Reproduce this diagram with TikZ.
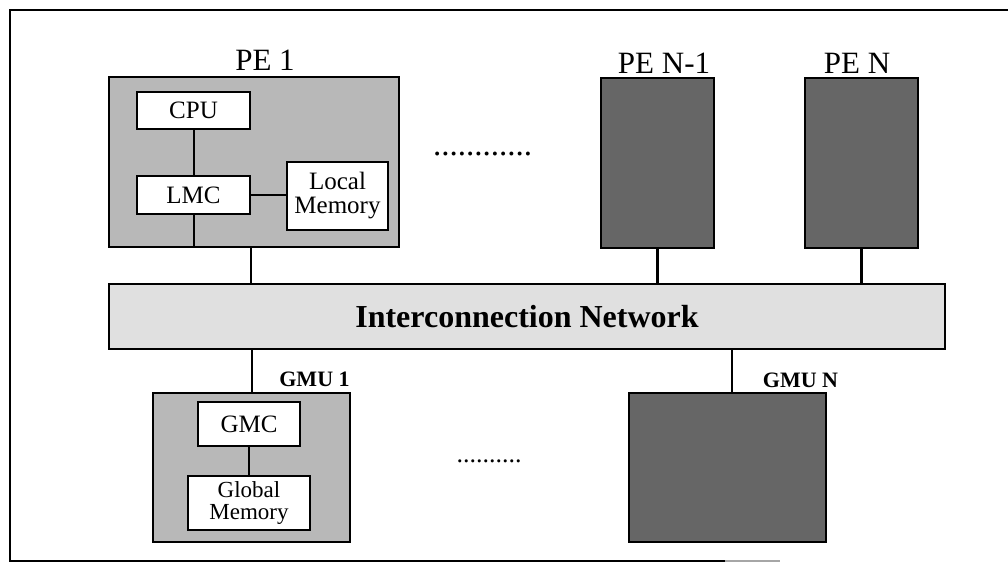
\documentclass[tikz,border=0pt]{standalone}
\usepackage{fontspec}
\setmainfont{Liberation Serif}
\begin{document}
\begin{tikzpicture}[x=1pt,y=-1pt,
  every node/.style={inner sep=0pt,outer sep=0pt},
  unit/.style={draw,line width=2.8pt,fill=black!28},
  darkunit/.style={draw,line width=2.8pt,fill=black!60},
  part/.style={draw,line width=2.6pt,fill=white,align=center,font=\fontsize{25}{24}\selectfont},
  link/.style={line width=2.8pt},
  thinlink/.style={line width=2pt},
  pelabel/.style={font=\fontsize{31}{31}\selectfont},
  gmulabel/.style={font=\bfseries\fontsize{22}{22}\selectfont},
  more/.style={font=\fontsize{#1}{#1}\selectfont}
]
\useasboundingbox (0,0) rectangle (1008,563);

% surrounding frame
\coordinate (fTR) at (1008,10);
\coordinate (fTL) at (10,10);
\coordinate (fBL) at (10,561);
\coordinate (fBR) at (725,561);
\coordinate (fBE) at (780,561);
\draw[line width=2.6pt] (fTR) -- (fTL) -- (fBL) -- (fBR);
\draw[line width=1.5pt,black!35] (fBR) -- (fBE);

% processing elements
\node[unit,minimum width=290pt,minimum height=170pt] (pe1) at (254,162) {};
\node[pelabel] (pe1lab) at (265,60) {PE 1};
\node[part,minimum width=113pt,minimum height=37pt] (cpu) at (193.5,110.5) {CPU};
\node[part,minimum width=113pt,minimum height=38pt] (lmc) at (193.5,195) {LMC};
\node[part,minimum width=101pt,minimum height=68pt] (lmem) at (337.5,196) {Local\\Memory};
\draw[thinlink] (cpu) -- (lmc);
\draw[thinlink] (lmc.south) -- (lmc.south |- pe1.south);
\draw[thinlink] (lmc.east) -- (lmc.east -| lmem.west);

\node[darkunit,minimum width=113pt,minimum height=170pt] (pen1) at (657.5,163) {};
\node[pelabel] (pen1lab) at (664,63) {PE N-1};
\node[darkunit,minimum width=113pt,minimum height=170pt] (pen) at (861.5,163) {};
\node[pelabel] (penlab) at (857,63) {PE N};

\node[more=33] (pedots) at (482.5,154) {............};

% interconnection network
\node[draw,line width=2.8pt,fill=black!12,minimum width=836pt,minimum height=65pt,
      font=\bfseries\fontsize{32}{32}\selectfont] (net) at (527,316.5) {Interconnection Network};

\coordinate (pe1c) at (251,247);
\draw[link] (pe1c) -- (pe1c |- net.north);
\draw[link] (pen1.south) -- (pen1.south |- net.north);
\draw[link] (pen.south) -- (pen.south |- net.north);

% global memory units
\node[unit,minimum width=197pt,minimum height=149pt] (gmu1) at (251.5,467.5) {};
\node[gmulabel] (gmu1lab) at (314.5,379) {GMU 1};
\node[part,minimum width=102pt,minimum height=44pt] (gmc) at (249,424) {GMC};
\node[part,minimum width=122pt,minimum height=54pt,font=\fontsize{23}{22}\selectfont] (gmem) at (249,503) {Global\\Memory};
\draw[thinlink] (gmc) -- (gmem);

\node[darkunit,minimum width=197pt,minimum height=149pt] (gmun) at (727.5,467.5) {};
\node[gmulabel] (gmunlab) at (800.5,380) {GMU N};

\node[more=26] (gmudots) at (489,461) {..........};

\coordinate (g1c) at (252,393);
\draw[link] (g1c |- net.south) -- (g1c);
\coordinate (gnc) at (732,393);
\draw[link] (gnc |- net.south) -- (gnc);
\end{tikzpicture}
\end{document}
